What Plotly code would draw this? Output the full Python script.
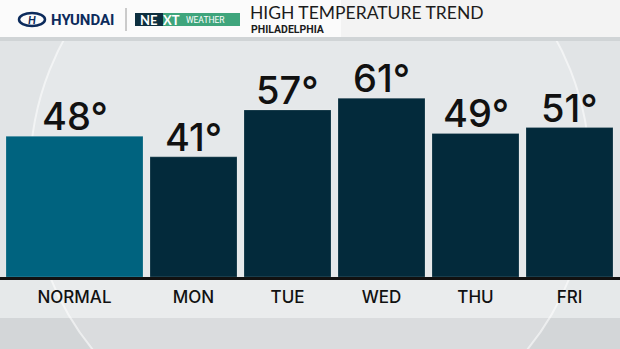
import plotly.graph_objects as go

# ---- data ----
categories = ["NORMAL", "MON", "TUE", "WED", "THU", "FRI"]
temps = [48, 41, 57, 61, 49, 51]
bar_colors = ["#00637f", "#032a3b", "#032a3b", "#032a3b", "#032a3b", "#032a3b"]
title_text = "HIGH TEMPERATURE TREND"
subtitle_text = "PHILADELPHIA"

# ---- layout geometry (pixels) ----
W, H = 620, 349
BASE = 277          # baseline pixel row
PX_PER_DEG = 2.93
widths = [137] + [87] * 5
gap = 7
start = 6
centers = []
pos = start
for w in widths:
    centers.append(pos + w / 2)
    pos += w + gap

PLOT_H = BASE

def px(x):
    return x / W

def py(y):
    return (BASE - y) / PLOT_H

labels = [f"{t}°" for t in temps]

fig = go.Figure()
fig.add_trace(go.Bar(
    x=centers, y=temps, width=widths,
    marker=dict(color=bar_colors, line=dict(color="rgba(255,255,255,0.18)", width=1)),
    hoverinfo="skip",
))

shapes = []
# label band and lower band
shapes.append(dict(type="rect", xref="paper", yref="paper", x0=0, x1=1, y0=py(349), y1=py(318),
                   fillcolor="#d3d6d8", line=dict(width=0), layer="below"))
shapes.append(dict(type="rect", xref="paper", yref="paper", x0=0, x1=1, y0=py(318), y1=py(279),
                   fillcolor="#e6e9ea", line=dict(width=0), layer="below"))
# globe
cx, cy, r = 310, 173, 280
shapes.append(dict(type="circle", xref="paper", yref="paper",
                   x0=px(cx - r), x1=px(cx + r), y0=py(cy + r), y1=py(cy - r),
                   fillcolor="rgba(255,255,255,0.16)", line=dict(color="rgba(255,255,255,0.55)", width=2),
                   layer="below"))
# header (light gradient approximated by two tones)
shapes.append(dict(type="rect", xref="paper", yref="paper", x0=0, x1=1, y0=py(37), y1=py(0),
                   fillcolor="#f3f3f3", line=dict(width=0), layer="below"))
shapes.append(dict(type="rect", xref="paper", yref="paper", x0=0, x1=0.55, y0=py(37), y1=py(0),
                   fillcolor="#fbfbfb", line=dict(width=0), layer="below"))
shapes.append(dict(type="rect", xref="paper", yref="paper", x0=0, x1=1, y0=py(41), y1=py(37),
                   fillcolor="#d0d4d6", line=dict(width=0), layer="below"))
# hyundai logo oval
shapes.append(dict(type="circle", xref="paper", yref="paper", x0=px(19), x1=px(45), y0=py(26), y1=py(13),
                   line=dict(color="#0c2b5c", width=2.5), fillcolor="rgba(0,0,0,0)"))
# separator
shapes.append(dict(type="line", xref="paper", yref="paper", x0=px(126), x1=px(126), y0=py(31), y1=py(8),
                   line=dict(color="#9a9a9a", width=1)))
# NEXT weather boxes
shapes.append(dict(type="rect", xref="paper", yref="paper", x0=px(135), x1=px(163), y0=py(26), y1=py(13),
                   fillcolor="#0d2f3f", line=dict(width=0)))
shapes.append(dict(type="rect", xref="paper", yref="paper", x0=px(163), x1=px(240), y0=py(26), y1=py(13),
                   fillcolor="#3fa57c", line=dict(width=0)))

annotations = []
def ann(text, x, y, size, color, family="Lato", xanchor="left", yanchor="middle", weight=None):
    f = dict(family=family, size=size, color=color)
    if weight:
        f["weight"] = weight
    annotations.append(dict(text=text, x=px(x), y=py(y), xref="paper", yref="paper",
                            showarrow=False, xanchor=xanchor, yanchor=yanchor, font=f))

ann("<b><i>H</i></b>", 32, 19.5, 11, "#0c2b5c", xanchor="center")
ann("<b>HYUNDAI</b>", 49, 19.5, 15, "#0c2b5c", family="Roboto")
ann("<b>NE</b>", 149, 19.5, 13, "#ffffff", xanchor="center")
ann("<b>XT</b>", 171, 19.5, 13, "#ffffff", xanchor="center")
ann("WEATHER", 184, 20, 8.5, "#ffffff", family="Roboto")
ann(title_text, 248, 12.5, 17.5, "#1c1c1c", family="Lato")
ann("<b>" + subtitle_text + "</b>", 249, 30, 10.5, "#1c1c1c", family="Roboto")

# value labels tied to the bars (data coordinates)
for c, t, lab in zip(centers, temps, labels):
    annotations.append(dict(text=lab, x=c, y=t, xref="x", yref="y", showarrow=False,
                            xanchor="center", yanchor="bottom", yshift=-5,
                            font=dict(family="Inter", size=38, color="#111111", weight=500)))

fig.update_layout(
    width=W, height=H,
    margin=dict(l=0, r=0, t=0, b=H - BASE, pad=0),
    paper_bgcolor="#e1e4e6", plot_bgcolor="rgba(0,0,0,0)",
    showlegend=False, shapes=shapes, annotations=annotations,
    xaxis=dict(range=[0, W], tickvals=centers, ticktext=categories, showgrid=False, zeroline=False,
               showline=True, linecolor="#111111", linewidth=3, ticks="", ticklabelstandoff=3,
               tickfont=dict(family="Inter", size=17, color="#111111", weight=500), fixedrange=True),
    yaxis=dict(range=[0, BASE / PX_PER_DEG], visible=False, fixedrange=True),
)

fig.write_html("out.html", config={"displayModeBar": False})
